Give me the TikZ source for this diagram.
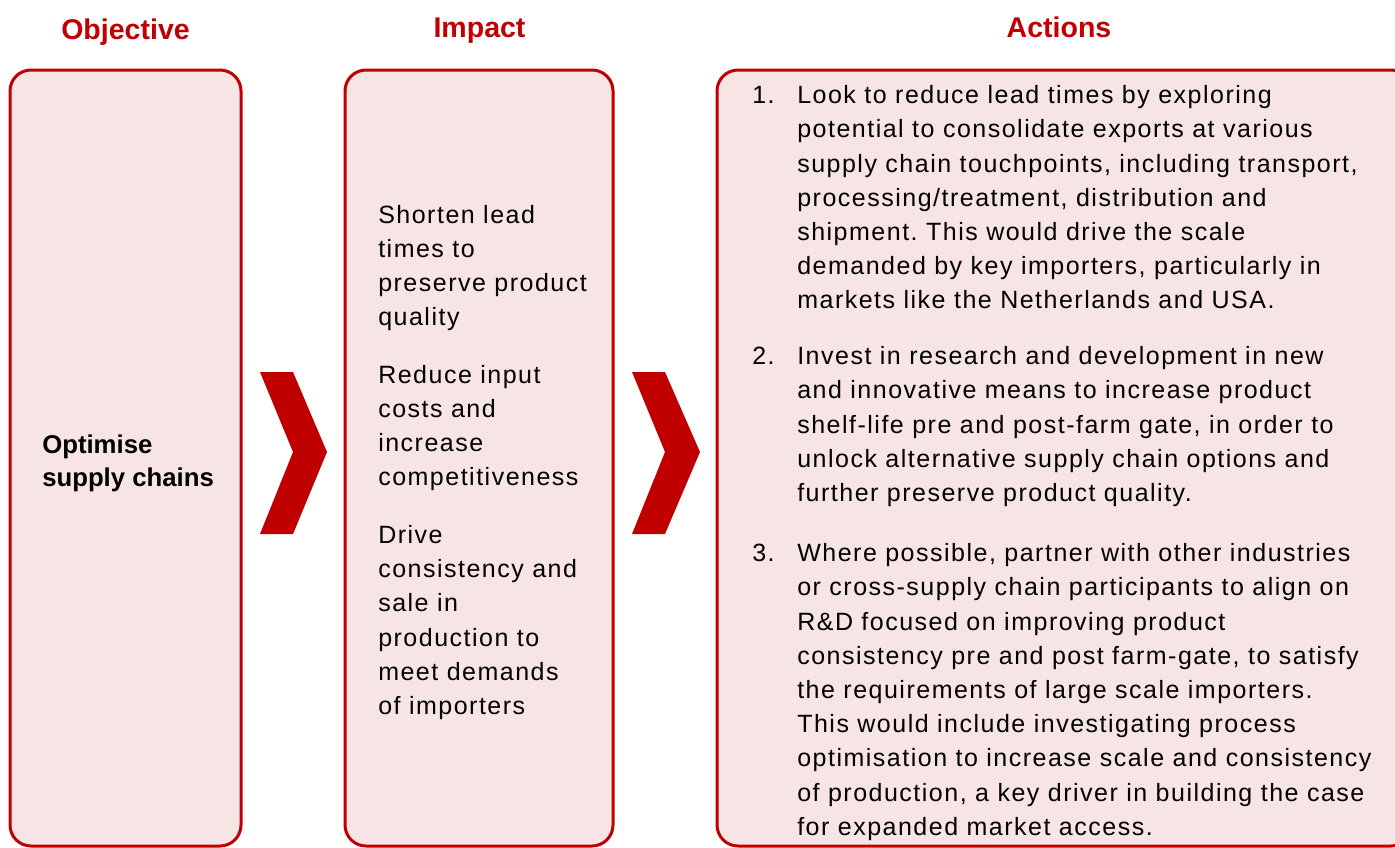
\documentclass[tikz,border=0pt]{standalone}
\usepackage{fontspec}
\setmainfont{Liberation Sans}
\newfontfamily\bodyfont[LetterSpace=6]{Liberation Sans}
\frenchspacing
\definecolor{kred}{RGB}{192,0,0}
\definecolor{kpink}{RGB}{247,228,229}
\tikzset{
  panel/.style={draw=kred,fill=kpink,line width=2.25pt,rounded corners=15.75pt},
  chev/.style={fill=kred,draw=none},
  headtext/.style={inner sep=0pt,font=\fontsize{21.4}{25}\selectfont\bfseries,text=kred},
  bodytext/.style={inner sep=0pt,align=left,font=\bodyfont\fontsize{18.75}{25.65}\selectfont}
}
\begin{document}
\begin{tikzpicture}[x=0.75pt,y=0.75pt,yscale=-1,xscale=1]
%set diagram to the size of the page
\clip (0,0) rectangle (1395,847);

%Shape: Rounded Rect [objective]
\draw [panel] (10,70) rectangle (241,846) ;
%Shape: Rounded Rect [impact]
\draw [panel] (345,70) rectangle (613,846) ;
%Shape: Rounded Rect [actions]
\draw [panel] (717,70) rectangle (1412,846) ;

%Shape: Chevron
\fill [chev] (260,372) -- (293,372) -- (327,452) -- (293,534) -- (260,534) -- (293,452) -- cycle ;
%Shape: Chevron
\fill [chev] (632,372) -- (665,372) -- (700,452) -- (665,534) -- (632,534) -- (665,452) -- cycle ;

% Text Node
\draw (125.5,39.5) node (objhead) [anchor=base][headtext] {Objective};
% Text Node
\draw (479.5,37) node (imphead) [anchor=base][headtext] {Impact};
% Text Node
\draw (1059,37) node (acthead) [anchor=base][headtext] {Actions};

% Text Node
\draw (42,434.5) node (objtext) [anchor=north west][inner sep=0pt][align=left][font=\fontsize{19.3}{24.9}\selectfont\bfseries] {Optimise\\supply chains};

% Text Node
\draw (378,204.8) node (imp1) [anchor=north west][bodytext] {Shorten lead\\times to\\preserve product\\quality};
% Text Node
\draw (378,364.8) node (imp2) [anchor=north west][bodytext] {Reduce input\\costs and\\increase\\competitiveness};
% Text Node
\draw (378,525.1) node (imp3) [anchor=north west][bodytext] {Drive\\consistency and\\sale in\\production to\\meet demands\\of importers};

% Text Node
\draw (752,103.5) node (num1) [anchor=base west][bodytext] {1.};
% Text Node
\draw (797,85.3) node (act1) [anchor=north west][bodytext] {Look to reduce lead times by exploring\\potential to consolidate exports at various\\supply chain touchpoints, including transport,\\processing/treatment, distribution and\\shipment. This would drive the scale\\demanded by key importers, particularly in\\markets like the Netherlands and USA.};
% Text Node
\draw (752,364.5) node (num2) [anchor=base west][bodytext] {2.};
% Text Node
\draw (797,346.3) node (act2) [anchor=north west][bodytext] {Invest in research and development in new\\and innovative means to increase product\\shelf-life pre and post-farm gate, in order to\\unlock alternative supply chain options and\\further preserve product quality.};
% Text Node
\draw (752,561.5) node (num3) [anchor=base west][bodytext] {3.};
% Text Node
\draw (797,543.3) node (act3) [anchor=north west][bodytext] {Where possible, partner with other industries\\or cross-supply chain participants to align on\\R\&D focused on improving product\\consistency pre and post farm-gate, to satisfy\\the requirements of large scale importers.\\This would include investigating process\\optimisation to increase scale and consistency\\of production, a key driver in building the case\\for expanded market access.};

\end{tikzpicture}
\end{document}
